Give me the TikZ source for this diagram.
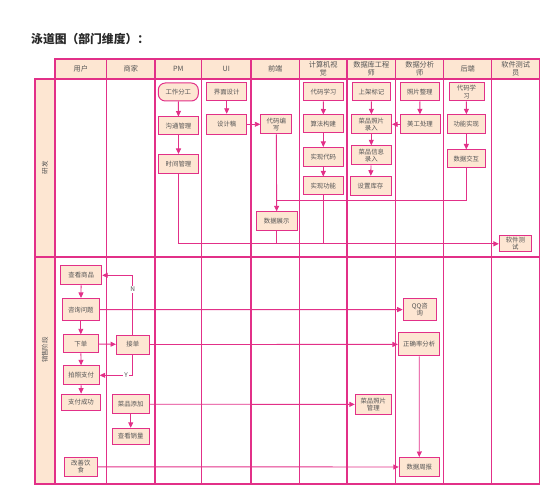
\documentclass[tikz,border=0pt]{standalone}
\usepackage{fontspec}
\setmainfont{Noto Sans CJK SC}
\usetikzlibrary{arrows.meta}
\definecolor{pk}{RGB}{226,48,136}
\definecolor{pf}{RGB}{253,230,210}
\definecolor{tx}{RGB}{85,85,85}
\definecolor{tt}{RGB}{40,40,40}
\tikzset{
 bx/.style={draw=pk, fill=pf, line width=1pt, minimum width=40pt, minimum height=19pt, inner sep=0pt, font=\fontsize{6.4}{7.4}\selectfont, text=tx, align=center},
 arr/.style={draw=pk, line width=0.9pt, -{Triangle[length=5.5pt,width=5pt]}},
 ln/.style={draw=pk, line width=0.9pt},
 cell/.style={draw=pk, fill=pf, line width=1.3pt},
 grid/.style={draw=pk, line width=1.3pt},
 hdtxt/.style={font=\fontsize{7.2}{8.2}\selectfont, text=tx, align=center, inner sep=0pt},
 lanetxt/.style={font=\fontsize{6.5}{7.5}\selectfont, text=tx, rotate=90, inner sep=0pt},
 lab/.style={font=\fontsize{6.5}{7.5}\selectfont, text=tx, fill=white, inner sep=1pt}
}
\begin{document}
\begin{tikzpicture}[x=1pt,y=-1pt]
\useasboundingbox (0,0) rectangle (555,500);
% title
\node[anchor=west, font=\fontsize{11.8}{13}\selectfont\bfseries, text=tt, inner sep=0pt] (title) at (31,39) {泳道图（部门维度）：};
% header cells
\foreach \a/\b in {55/106.7,106.7/155,155/201.7,201.7/251,251/299.3,299.3/347,347/395.7,395.7/443.8,443.8/491.7,491.7/539.7}
  \path[cell] (\a,59) rectangle (\b,79);
% lane label cells
\path[cell] (35,79) rectangle (55,257);
\path[cell] (35,257) rectangle (55,484);
% lane bodies
\path[grid] (55,79) rectangle (539.7,484);
\path[grid] (35,257) -- (539.7,257);
\foreach \a in {106.7,155,201.7,251,299.3,347,395.7,443.8,491.7}
  \path[grid] (\a,79) -- (\a,484);
% header texts
\node[hdtxt] (h1) at (80.8,69) {用户};
\node[hdtxt] (h2) at (130.8,69) {商家};
\node[hdtxt] (h3) at (178.3,69) {PM};
\node[hdtxt] (h4) at (226.3,69) {UI};
\node[hdtxt] (h5) at (275.2,69) {前端};
\node[hdtxt] (h6) at (323.2,69) {计算机视\\觉};
\node[hdtxt] (h7) at (371.3,69) {数据库工程\\师};
\node[hdtxt] (h8) at (419.7,69) {数据分析\\师};
\node[hdtxt] (h9) at (467.7,69) {后端};
\node[hdtxt] (h10) at (515.7,69) {软件测试\\员};
% lane labels
\node[lanetxt] (l1) at (45,168) {研发};
\node[lanetxt] (l2) at (45,350) {销售阶段};
% ---------- upper lane nodes
\node[bx, rounded corners=7pt, minimum height=18pt] (gzfg) at (178.3,92) {工作分工};
\node[bx, minimum height=18pt] (gtgl) at (178.5,126) {沟通管理};
\node[bx] (sjgl) at (178.5,164) {时间管理};
\node[bx, minimum height=18pt] (jmsj) at (226.7,92) {界面设计};
\node[bx, minimum height=20pt] (sjg) at (226.7,124.3) {设计稿};
\node[bx, minimum width=31pt] (dmbx) at (276.3,124.3) {代码编\\写};
\node[bx, minimum width=41pt] (sjzs) at (276.7,221.3) {数据展示};
\node[bx, minimum height=18pt] (dmxx1) at (323.5,92) {代码学习};
\node[bx, minimum height=18pt] (sfgj) at (323.3,124) {算法构建};
\node[bx] (sxdm) at (323.3,157) {实现代码};
\node[bx, minimum height=18pt] (sxgn) at (323.3,186) {实现功能};
\node[bx, minimum width=38pt, minimum height=18pt] (sjbj) at (371.5,92) {上架标记};
\node[bx, minimum width=40.5pt] (cpzplr) at (371.3,124.3) {菜品照片\\录入};
\node[bx, minimum width=40.5pt] (cpxxlr) at (371.3,155.3) {菜品信息\\录入};
\node[bx, minimum width=41pt, minimum height=19.5pt] (szkc) at (370.5,186) {设置库存};
\node[bx, minimum width=38.5pt, minimum height=18pt] (zpzl) at (419.8,92) {照片整理};
\node[bx] (mgcl) at (420,124.3) {美工处理};
\node[bx, minimum width=35pt, minimum height=18pt] (dmxx2) at (466.5,92) {代码学\\习};
\node[bx, minimum width=37.5pt] (gnsx) at (466.3,124.3) {功能实现};
\node[bx, minimum width=37.5pt, minimum height=17.5pt] (sjjh) at (466.3,158.7) {数据交互};
\node[bx, minimum width=32pt, minimum height=16pt] (rjcs) at (515.4,243.8) {软件测\\试};
% ---------- lower lane nodes
\node[bx, minimum width=41pt] (ckdp) at (81.2,275.3) {查看商品};
\node[bx, minimum width=37pt, minimum height=22.5pt] (zxwt) at (80.8,309.7) {咨询问题};
\node[bx, minimum width=35pt, minimum height=18pt] (xd) at (80.8,343.8) {下单};
\node[bx, minimum width=36pt] (pzzf) at (81.2,375.3) {拍照支付};
\node[bx, minimum width=38.5pt, minimum height=16pt] (zfcg) at (81,402.2) {支付成功};
\node[bx, minimum width=33pt, minimum height=19pt] (gsys) at (80.8,466.8) {改善饮\\食};
\node[bx, minimum width=32.5pt] (jd) at (132.8,344.5) {接单};
\node[bx, minimum width=37pt, minimum height=19.5pt] (cptj) at (130.7,404.2) {菜品添加};
\node[bx, minimum width=37pt, minimum height=16pt] (ckxl) at (130.7,436.3) {查看销量};
\node[bx, minimum width=36pt, minimum height=20pt] (cpzpgl) at (373.3,404.4) {菜品照片\\管理};
\node[bx, minimum width=33pt, minimum height=22pt] (qqzx) at (419.7,309.6) {QQ咨\\询};
\node[bx, minimum width=41.5pt, minimum height=23pt] (zqlfx) at (419.2,344.4) {正确率分析};
\node[bx, minimum width=40pt, minimum height=19pt] (sjzb) at (419.3,467) {数据周报};
% ---------- upper connectors
\draw[arr] (gzfg) -- (gtgl);
\draw[arr] (gtgl) -- (sjgl);
\draw[arr] (jmsj) -- (sjg);
\draw[arr] (sjg) -- (dmbx);
\draw[arr] (dmxx1) -- (sfgj);
\draw[arr] (sfgj) -- (sxdm);
\draw[arr] (sxdm) -- (sxgn);
\draw[arr] (sjbj) -- (cpzplr);
\draw[arr] (cpzplr) -- (cpxxlr);
\draw[arr] (cpxxlr) -- (szkc);
\draw[arr] (zpzl) -- (mgcl);
\draw[arr] (mgcl) -- (cpzplr);
\draw[arr] (dmxx2) -- (gnsx);
\draw[arr] (gnsx) -- (sjjh);
\draw[arr] (dmbx) -- (sjzs);
\coordinate (j1) at (276.7,200);
\draw[ln] (sjjh.south) |- (j1);
\draw[arr] (sjgl.south) |- (rjcs.west);
\draw[ln] (sjzs.south) -- (sjzs.south |- rjcs.west);
\draw[ln] (sxgn.south) -- (sxgn.south |- rjcs.west);
% ---------- lower connectors
\draw[arr] (ckdp) -- (zxwt);
\draw[arr] (zxwt) -- (xd);
\draw[arr] (xd) -- (pzzf);
\draw[arr] (pzzf) -- (zfcg);
\draw[arr] (xd) -- (jd);
\draw[arr] (jd.north) |- node[lab, pos=0.38] (nlab) {N} (ckdp.east);
\draw[arr] (jd.south) |- node[lab, pos=0.6] (ylab) {Y} (pzzf.east);
\draw[arr] (zxwt) -- (qqzx);
\draw[arr] (jd) -- (zqlfx);
\draw[arr] (zqlfx) -- (sjzb);
\draw[arr] (cptj) -- (ckxl);
\draw[arr] (cptj) -- (cpzpgl);
\draw[arr] (gsys) -- (sjzb);
\end{tikzpicture}
\end{document}
